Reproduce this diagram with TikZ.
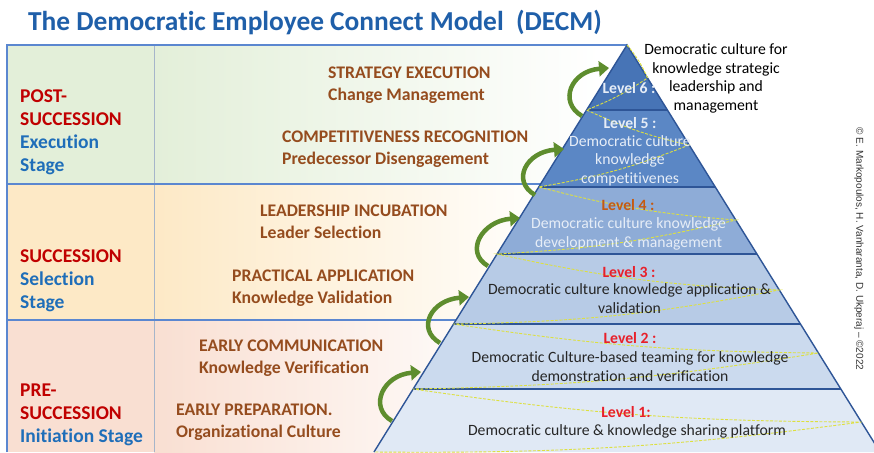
\documentclass[tikz,border=0pt]{standalone}
\usepackage{fontspec}
\setmainfont{Carlito}[Ligatures=NoCommon]
\newfontfamily\arialf{Liberation Sans}
\usetikzlibrary{arrows.meta}
\definecolor{titleblue}{HTML}{1F5FA9}
\definecolor{stred}{HTML}{C00000}
\definecolor{stblue}{HTML}{1F6EB9}
\definecolor{midbrown}{HTML}{954C1E}
\definecolor{rowA}{HTML}{E3EFD9}
\definecolor{rowB}{HTML}{FDE9C6}
\definecolor{rowC}{HTML}{F9DFD2}
\definecolor{panelline}{HTML}{5B87D0}
\definecolor{divline}{HTML}{A6B5CA}
\definecolor{lvsix}{HTML}{4774B6}
\definecolor{lvfive}{HTML}{5B87C5}
\definecolor{lvfour}{HTML}{8EACD7}
\definecolor{lvthree}{HTML}{B7CBE6}
\definecolor{lvtwo}{HTML}{CBDAEE}
\definecolor{lvone}{HTML}{E0E9F5}
\definecolor{pyrline}{HTML}{2E5597}
\definecolor{spiralc}{HTML}{DDE040}
\definecolor{arrowgreen}{HTML}{5E8D2E}
\definecolor{lightt}{HTML}{E6EDF7}
\definecolor{lvred}{HTML}{E8202A}
\definecolor{lvorange}{HTML}{C55A11}
\begin{document}
\begin{tikzpicture}[x=1pt,y=-1pt,
  stagetxt/.style={font=\fontsize{19.5}{23}\selectfont\bfseries, align=left, anchor=base west, inner sep=0pt},
  midtxt/.style={font=\fontsize{17.7}{21.5}\selectfont\bfseries, text=midbrown, align=left, anchor=base west, inner sep=0pt},
  lvtxt/.style={font=\fontsize{15.7}{18.5}\selectfont, align=center, anchor=base, inner sep=0pt},
  lvlabel/.style={lvtxt, font=\fontsize{15.7}{18.5}\selectfont\bfseries},
  levelline/.style={draw=pyrline, line width=2.2pt},
  pyredge/.style={draw=pyrline, line width=1.4pt},
  panel/.style={draw=panelline, line width=1.4pt},
  spiral/.style={draw=spiralc, line width=0.9pt, dash pattern=on 3pt off 1.5pt},
  greenarrow/.style={draw=arrowgreen, line width=4.5pt, -{Triangle[length=10pt,width=15pt]}}
]
\clip (0,0) rectangle (874,452);
\fill[white] (0,0) rectangle (874,452);

% title
\node[font=\fontsize{27.4}{28}\selectfont\bfseries, text=titleblue, anchor=base, inner sep=0pt] (title) at (315,31) {The Democratic Employee Connect Model\ \ (DECM)};

% rows
\fill[rowA] (7,45) rectangle (154,184);
\shade[left color=rowA, right color=white] (154,45) rectangle (600,184);
\fill[rowB] (7,184) rectangle (154,320);
\shade[left color=rowB, right color=white] (154,184) rectangle (560,320);
\fill[rowC] (7,320) rectangle (154,452);
\shade[left color=rowC, right color=white] (154,320) rectangle (520,452);
\draw[divline, line width=0.8pt] (154,45) -- (154,452);
\draw[panel] (7,452) -- (7,45) -- (627,45);
\draw[panel] (7,184) -- (541,184);
\draw[panel] (7,320) -- (456,320);

% pyramid
\coordinate (apex) at (627,45);
\coordinate (l6) at (586.6,110); \coordinate (r6) at (667.4,110);
\coordinate (l5) at (538.7,187); \coordinate (r5) at (715.3,187);
\coordinate (l4) at (497,254);   \coordinate (r4) at (757,254);
\coordinate (l3) at (453.5,324); \coordinate (r3) at (800.5,324);
\coordinate (l2) at (413,389);   \coordinate (r2) at (841,389);
\coordinate (l1) at (374,452);   \coordinate (r1) at (880,452);
\fill[lvsix] (apex) -- (r6) -- (l6) -- cycle;
\fill[lvfive] (l6) -- (r6) -- (r5) -- (l5) -- cycle;
\fill[lvfour] (l5) -- (r5) -- (r4) -- (l4) -- cycle;
\fill[lvthree] (l4) -- (r4) -- (r3) -- (l3) -- cycle;
\fill[lvtwo] (l3) -- (r3) -- (r2) -- (l2) -- cycle;
\fill[lvone] (l2) -- (r2) -- (r1) -- (l1) -- cycle;
\draw[levelline] (l6) -- (r6);
\draw[levelline] (l5) -- (r5);
\draw[levelline] (l4) -- (r4);
\draw[levelline] (l3) -- (r3);
\draw[levelline] (l2) -- (r2);
\draw[pyredge] (l1) -- (apex) -- (r1);

% spiral
\coordinate (s6) at (647.5,78);
\coordinate (s5) at (689,145);
\coordinate (s4) at (736,220);
\coordinate (s3) at (779,290);
\coordinate (s2) at (818.6,353);
\coordinate (s1) at (861.5,422);
\draw[spiral] (apex) to[bend left=8] (s6) to[bend left=6] (l6) to[bend right=6] (s5) to[bend left=6] (l5)
  to[bend right=5] (s4) to[bend left=5] (l4) to[bend right=5] (s3) to[bend left=5] (l3)
  to[bend right=4] (s2) to[bend left=4] (l2) to[bend right=4] (s1) to[bend left=4] (l1);

% green arrows
\coordinate (a1s) at (392,421); \coordinate (a1e) at (421,372);
\coordinate (a2s) at (440,343); \coordinate (a2e) at (469,297);
\coordinate (a3s) at (488,266); \coordinate (a3e) at (520,218);
\coordinate (a4s) at (535,195); \coordinate (a4e) at (564,149);
\coordinate (a5s) at (582,116); \coordinate (a5e) at (609,68);
\foreach \k in {1,...,5}{
  \draw[greenarrow] (a\k s) .. controls +(-24,-14) and +(-38,3) .. (a\k e);
}

% stage texts (anchor = baseline of last line)
\node[stagetxt] (post) at (20,171) {\textcolor{stred}{POST-}\\\textcolor{stred}{SUCCESSION}\\\textcolor{stblue}{Execution}\\\textcolor{stblue}{Stage}};
\node[stagetxt] (succ) at (20,308) {\textcolor{stred}{SUCCESSION}\\\textcolor{stblue}{Selection}\\\textcolor{stblue}{Stage}};
\node[stagetxt] (pre) at (20,442) {\textcolor{stred}{PRE-}\\\textcolor{stred}{SUCCESSION}\\\textcolor{stblue}{Initiation Stage}};

% middle texts
\node[midtxt] (m1) at (328,100) {STRATEGY EXECUTION\\Change Management};
\node[midtxt] (m2) at (282,164) {COMPETITIVENESS RECOGNITION\\Predecessor Disengagement};
\node[midtxt] (m3) at (260,238) {LEADERSHIP INCUBATION\\Leader Selection};
\node[midtxt] (m4) at (232,303) {PRACTICAL APPLICATION\\Knowledge Validation};
\node[midtxt] (m5) at (199,373) {EARLY COMMUNICATION\\Knowledge Verification};
\node[midtxt] (m6) at (176,437) {EARLY PREPARATION.\\Organizational Culture};

% level texts
\node[lvlabel, text=lightt] (lv6) at (629,93) {Level 6 :};
\node[lvtxt, text=black] (lv6d) at (716,110) {Democratic culture for\\knowledge strategic\\leadership and\\management};
\node[lvlabel, text=lightt] (lv5) at (630,128) {Level 5 :};
\node[lvtxt, text=lightt] (lv5d) at (630,183) {Democratic culture\\knowledge\\competitivenes};
\node[lvlabel, text=lvorange] (lv4) at (628,210) {Level 4 :};
\node[lvtxt, text=lightt] (lv4d) at (628.5,247) {Democratic culture knowledge\\development \& management};
\node[lvlabel, text=lvred] (lv3) at (629,277) {Level 3 :};
\node[lvtxt, text=black!85] (lv3d) at (629.5,313) {Democratic culture knowledge application \&\\validation};
\node[lvlabel, text=lvred] (lv2) at (630,343) {Level 2 :};
\node[lvtxt, text=black!85] (lv2d) at (630,381) {Democratic Culture-based teaming for knowledge\\demonstration and verification};
\node[lvlabel, text=lvred] (lv1) at (626,417) {Level 1:};
\node[lvtxt, text=black!85] (lv1d) at (627,435) {Democratic culture \& knowledge sharing platform};

% copyright
\node[font=\arialf\fontsize{10}{11}\selectfont, text=black!80, rotate=-90, inner sep=0pt] (copy) at (859,249) {© E. Markopoulos, H. Vanharanta, D. Ukperaj – ©2022};
\end{tikzpicture}
\end{document}
